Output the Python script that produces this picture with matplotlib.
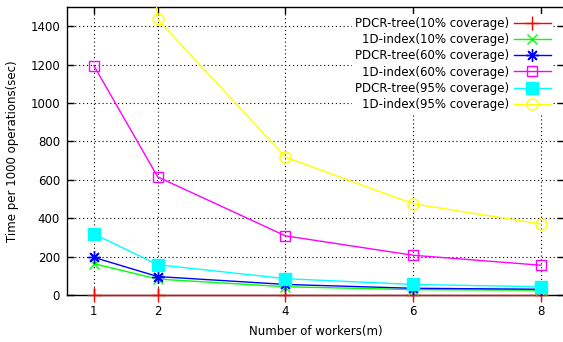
import matplotlib
matplotlib.use('Agg')
import matplotlib.pyplot as plt

workers = [1, 2, 4, 6, 8]

# time per 1000 operations (sec)
pdcr_10 = [2, 2, 2, 2, 2]
idx_10 = [163, 83, 43, 28, 25]
pdcr_60 = [196, 96, 55, 35, 30]
idx_60 = [1195, 615, 308, 207, 155]
pdcr_95 = [318, 158, 85, 55, 43]
idx_95 = [5000, 1435, 718, 475, 370]

labels = ['PDCR-tree(10% coverage)', '1D-index(10% coverage)',
          'PDCR-tree(60% coverage)', '1D-index(60% coverage)',
          'PDCR-tree(95% coverage)', '1D-index(95% coverage)']

plt.rcParams['font.family'] = ['DejaVu Sans']
fs = 8.5

fig = plt.figure(figsize=(5.63, 3.42), dpi=100)
ax = fig.add_axes([67 / 563, 47 / 342, 497 / 563, 288 / 342])

lw = 1.0
ax.plot(workers, pdcr_10, color='#ff0000', lw=lw, marker='+', ms=10, mew=1, label=labels[0], zorder=3, clip_on=False)
ax.plot(workers, idx_10, color='#00ff00', lw=lw, marker='x', ms=7, mew=1, label=labels[1], zorder=3)
ax.plot(workers, pdcr_60, color='#0000ff', lw=lw, marker=(8, 2, 0), ms=9, mew=1, label=labels[2], zorder=3)
ax.plot(workers, idx_60, color='#ff00ff', lw=lw, marker='s', ms=7.5, mew=1, fillstyle='none', label=labels[3], zorder=3)
ax.plot(workers, pdcr_95, color='#00ffff', lw=lw, marker='s', ms=8, mew=1, label=labels[4], zorder=3)
ax.plot(workers, idx_95, color='#ffff00', lw=lw, marker='o', ms=8, mew=1, fillstyle='none', label=labels[5], zorder=3)

ax.set_xlim(0.58, 8.36)
ax.set_ylim(0, 1500)
ax.set_xticks(workers)
ax.set_yticks(range(0, 1401, 200))
ax.tick_params(direction='in', top=True, right=True, length=5, width=1, labelsize=fs)
ax.tick_params(axis='x', pad=7)
ax.tick_params(axis='y', pad=5)
ax.grid(True, color='black', linestyle=(0, (1, 2.5)), linewidth=0.8)
for s in ax.spines.values():
    s.set_linewidth(1)

ax.set_xlabel('Number of workers(m)', fontsize=fs, labelpad=5)
ax.set_ylabel('Time per 1000 operations(sec)', fontsize=fs, labelpad=8)

leg = ax.legend(loc='upper right', bbox_to_anchor=(0.99, 0.995), markerfirst=False,
                frameon=True, fancybox=False, framealpha=1, edgecolor='none',
                facecolor='white', handlelength=3.1, handletextpad=0.45,
                labelspacing=0.28, borderpad=0.2, fontsize=fs)
for t in leg.get_texts():
    t.set_ha('right')
leg._legend_box.align = 'right'
leg.set_zorder(5)

fig.savefig('out.png', dpi=100)
